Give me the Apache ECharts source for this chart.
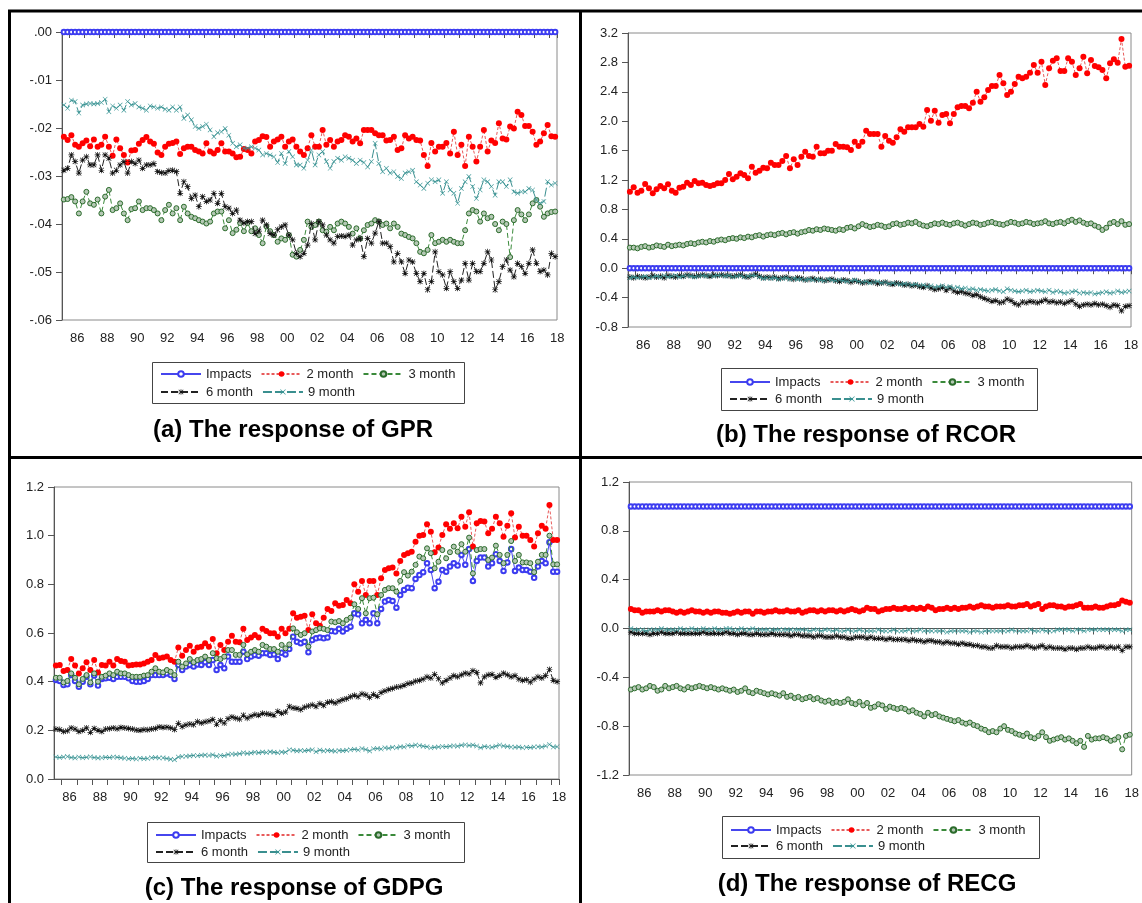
<!DOCTYPE html>
<html><head><meta charset="utf-8">
<script src="https://cdn.jsdelivr.net/npm/echarts@6/dist/echarts.min.js"></script>
<style>html,body{margin:0;padding:0;background:#fff}#c{width:1142px;height:903px}</style>
</head><body><div id="c"></div>
<script>
// ---------- categories / tick labels ----------
const startYear = 1985, startQuarter = 3, nQuarters = 132;
const yearLabels = ['86','88','90','92','94','96','98','00','02','04','06','08','10','12','14','16','18'];
const names = ['Impacts','2 month','3 month','6 month','9 month'];
const captions = ['(a) The response of GPR','(b) The response of RCOR','(c) The response of GDPG','(d) The response of RECG'];
const gprTicks = [-0.06, 0.00, 0.01];
const rcorTicks = [-0.8, 3.2, 0.4];
const gdpgTicks = [0.0, 1.2, 0.2];
const recgTicks = [-1.2, 1.2, 0.4];

// ---------- (a) GPR ----------
const gprImpacts = [0,0,0,0,0,0,0,0,0,0,0,0,0,0,0,0,0,0,0,0,0,0,0,0,0,0,0,0,0,0,0,0,0,0,0,0,0,0,0,0,0,0,0,0,0,0,0,0,0,0,0,0,0,0,0,0,0,0,0,0,0,0,0,0,0,0,0,0,0,0,0,0,0,0,0,0,0,0,0,0,0,0,0,0,0,0,0,0,0,0,0,0,0,0,0,0,0,0,0,0,0,0,0,0,0,0,0,0,0,0,0,0,0,0,0,0,0,0,0,0,0,0,0,0,0,0,0,0,0,0,0,0];
const gprM2 = [-0.0218,-0.0225,-0.0215,-0.0235,-0.0239,-0.0232,-0.0226,-0.0238,-0.0224,-0.0239,
-0.0235,-0.0218,-0.0239,-0.0258,-0.0224,-0.0242,-0.0256,-0.0272,-0.0247,-0.0246,
-0.0233,-0.0225,-0.0219,-0.0228,-0.0233,-0.0251,-0.0256,-0.0239,-0.0233,-0.0231,
-0.0228,-0.0254,-0.0242,-0.0239,-0.0239,-0.0246,-0.0249,-0.0253,-0.0232,-0.0249,
-0.0253,-0.0246,-0.0232,-0.0249,-0.0249,-0.0253,-0.0261,-0.0260,-0.0244,-0.0246,
-0.0253,-0.0228,-0.0225,-0.0217,-0.0219,-0.0239,-0.0228,-0.0224,
-0.0218,-0.0239,-0.0228,-0.0224,-0.0239,-0.0249,-0.0256,-0.0242,-0.0215,-0.0239,
-0.0239,-0.0204,-0.0235,-0.0225,-0.0239,-0.0228,-0.0225,-0.0215,-0.0218,-0.0228,
-0.0222,-0.0232,-0.0204,-0.0204,-0.0204,-0.0211,-0.0215,-0.0215,-0.0226,-0.0225,
-0.0218,-0.0246,-0.0242,-0.0215,-0.0222,-0.0218,-0.0225,-0.0226,-0.0256,-0.0279,
-0.0231,-0.0249,-0.0239,-0.0239,-0.0231,-0.0253,-0.0208,-0.0256,-0.0235,-0.0279,
-0.0218,-0.0239,-0.0270,-0.0239,-0.0204,-0.0249,-0.0226,-0.0231,-0.0190,-0.0222,
-0.0224,-0.0197,-0.0201,-0.0166,-0.0173,-0.0196,-0.0196,-0.0208,-0.0235,-0.0228,
-0.0211,-0.0194,-0.0217,-0.0218];
const gprM3 = [-0.0349,-0.0348,-0.0344,-0.0353,-0.0378,-0.0353,-0.0333,-0.0357,-0.0360,-0.0349,
-0.0378,-0.0343,-0.0329,-0.0371,-0.0367,-0.0357,-0.0378,-0.0392,-0.0369,-0.0367,
-0.0353,-0.0371,-0.0367,-0.0367,-0.0371,-0.0378,-0.0392,-0.0371,-0.0360,-0.0378,
-0.0367,-0.0392,-0.0364,-0.0378,-0.0385,-0.0388,-0.0392,-0.0395,-0.0399,-0.0395,
-0.0378,-0.0374,-0.0374,
-0.0409,-0.0392,-0.0419,-0.0412,-0.0398,-0.0415,-0.0398,-0.0415,-0.0409,-0.0423,-0.0440,-0.0405,-0.0415,-0.0423,-0.0437,
-0.0430,-0.0433,-0.0423,-0.0464,-0.0468,-0.0454,-0.0433,-0.0395,-0.0406,-0.0402,
-0.0395,-0.0413,-0.0416,-0.0406,-0.0413,-0.0399,-0.0395,-0.0399,-0.0406,-0.0420,
-0.0409,-0.0430,-0.0413,-0.0402,-0.0399,-0.0392,-0.0395,-0.0402,-0.0399,-0.0409,
-0.0399,-0.0406,-0.0420,-0.0423,-0.0427,-0.0430,-0.0440,-0.0458,-0.0461,-0.0454,
-0.0423,-0.0440,-0.0437,-0.0433,-0.0437,-0.0433,-0.0437,-0.0440,
-0.0440,-0.0413,-0.0378,-0.0371,-0.0374,-0.0395,-0.0378,-0.0388,-0.0385,-0.0400,
-0.0413,-0.0395,-0.0400,-0.0469,-0.0392,-0.0371,-0.0380,-0.0392,-0.0380,-0.0357,
-0.0350,-0.0364,-0.0385,-0.0378,-0.0375,-0.0374];
const gprM6 = [-0.0288,-0.0284,-0.0256,-0.0270,-0.0294,-0.0267,-0.0260,-0.0277,-0.0277,-0.0256,
-0.0288,-0.0256,-0.0263,-0.0294,-0.0288,-0.0277,-0.0270,-0.0294,-0.0270,-0.0274,
-0.0267,-0.0284,-0.0277,-0.0277,-0.0274,-0.0291,-0.0293,-0.0294,-0.0289,-0.0288,
-0.0291,
-0.0336,-0.0312,-0.0322,-0.0347,-0.0340,-0.0364,-0.0343,-0.0353,-0.0350,-0.0336,-0.0357,-0.0336,-0.0364,-0.0367,
-0.0378,-0.0371,-0.0392,-0.0398,-0.0395,-0.0395,-0.0420,-0.0415,-0.0392,-0.0402,-0.0420,-0.0423,-0.0412,
-0.0406,-0.0402,-0.0423,-0.0433,-0.0461,-0.0468,-0.0461,-0.0444,-0.0399,-0.0433,
-0.0395,-0.0402,-0.0423,-0.0433,-0.0440,-0.0426,-0.0425,-0.0426,-0.0423,-0.0444,
-0.0433,-0.0430,-0.0468,-0.0430,-0.0440,-0.0419,-0.0395,-0.0440,-0.0440,-0.0447,
-0.0479,-0.0461,-0.0479,-0.0503,-0.0475,-0.0479,-0.0503,-0.0520,-0.0503,-0.0537,
-0.0520,-0.0458,-0.0499,-0.0506,-0.0534,-0.0499,-0.0520,-0.0534,-0.0517,-0.0482,
-0.0517,-0.0482,-0.0499,-0.0499,-0.0482,-0.0458,-0.0475,-0.0537,-0.0520,-0.0489,
-0.0475,-0.0496,-0.0510,-0.0482,-0.0489,-0.0503,-0.0482,-0.0454,-0.0482,-0.0499,
-0.0496,-0.0506,-0.0461,-0.0468];
const gprM9 = [-0.0152,-0.0159,-0.0142,-0.0145,-0.0169,-0.0152,-0.0150,-0.0149,-0.0150,-0.0149,
-0.0147,-0.0140,-0.0166,-0.0154,-0.0159,-0.0152,-0.0163,-0.0145,-0.0152,-0.0149,
-0.0156,-0.0159,-0.0163,-0.0154,-0.0156,-0.0159,-0.0156,-0.0161,-0.0163,-0.0156,
-0.0163,-0.0156,-0.0180,-0.0173,-0.0183,-0.0197,-0.0201,-0.0197,-0.0192,-0.0204,
-0.0218,-0.0210,-0.0208,-0.0201,-0.0215,-0.0232,-0.0239,-0.0235,-0.0242,-0.0242,
-0.0239,-0.0242,-0.0246,-0.0256,-0.0253,-0.0256,-0.0260,-0.0272,
-0.0253,-0.0274,-0.0249,-0.0260,-0.0277,-0.0277,-0.0284,-0.0267,-0.0246,-0.0277,
-0.0256,-0.0249,-0.0270,-0.0284,-0.0270,-0.0263,-0.0267,-0.0260,-0.0263,-0.0267,
-0.0274,-0.0267,-0.0272,-0.0281,-0.0270,-0.0232,-0.0274,-0.0291,-0.0284,-0.0294,
-0.0291,-0.0301,-0.0305,-0.0294,-0.0291,-0.0288,-0.0312,-0.0319,-0.0326,-0.0315,
-0.0308,-0.0312,-0.0308,-0.0336,-0.0312,-0.0329,-0.0336,-0.0357,-0.0326,-0.0312,
-0.0301,-0.0322,-0.0347,-0.0329,-0.0308,-0.0312,-0.0322,-0.0340,-0.0312,-0.0312,
-0.0322,-0.0308,-0.0333,-0.0336,-0.0333,-0.0333,-0.0326,-0.0329,-0.0350,-0.0357,
-0.0353,-0.0312,-0.0319,-0.0315];

// ---------- (b) RCOR ----------
const rcorImpacts = [0,0,0,0,0,0,0,0,0,0,0,0,0,0,0,0,0,0,0,0,0,0,0,0,0,0,0,0,0,0,0,0,0,0,0,0,0,0,0,0,0,0,0,0,0,0,0,0,0,0,0,0,0,0,0,0,0,0,0,0,0,0,0,0,0,0,0,0,0,0,0,0,0,0,0,0,0,0,0,0,0,0,0,0,0,0,0,0,0,0,0,0,0,0,0,0,0,0,0,0,0,0,0,0,0,0,0,0,0,0,0,0,0,0,0,0,0,0,0,0,0,0,0,0,0,0,0,0,0,0,0,0];
const rcorM2 = [1.041,1.100,1.028,1.055,1.146,1.087,1.019,1.073,1.118,1.087,
1.141,1.055,1.028,1.096,1.109,1.164,1.132,1.186,1.155,1.164,
1.132,1.118,1.132,1.155,1.155,1.200,1.282,1.209,1.245,1.291,
1.268,1.223,1.381,1.300,1.327,1.368,1.359,1.436,1.404,1.404,
1.459,1.527,1.359,1.481,1.404,1.517,1.586,1.527,1.517,1.653,
1.563,1.563,1.599,1.599,1.690,1.653,1.653,1.644,1.608,1.722,
1.663,1.722,
1.871,1.826,1.826,1.826,1.653,1.799,1.735,1.708,1.780,1.889,
1.858,1.917,1.917,1.917,1.962,1.926,2.152,2.007,2.143,1.980,
2.084,2.098,1.971,2.098,2.189,2.207,2.207,2.175,2.252,2.402,
2.266,2.325,2.424,2.479,2.479,2.629,2.515,2.356,2.402,2.506,
2.606,2.583,2.606,2.660,2.765,2.660,2.810,2.493,2.719,2.824,
2.855,2.683,2.683,2.855,2.810,2.629,2.719,2.878,2.651,2.833,
2.751,2.733,2.697,2.583,2.787,2.842,2.796,3.118,2.742,2.756];
const rcorM3 = [0.28,0.28,0.27,0.29,0.30,0.28,0.29,0.31,0.30,0.29,0.32,0.30,
0.31,0.32,0.31,0.33,0.34,0.33,0.35,0.36,0.35,0.37,0.36,0.38,
0.39,0.38,0.40,0.41,0.40,0.42,0.41,0.43,0.42,0.44,0.45,0.43,
0.45,0.46,0.45,0.47,0.48,0.46,0.48,0.49,0.47,0.49,0.50,0.52,
0.51,0.53,0.52,0.54,0.53,0.52,0.51,0.53,0.52,0.55,0.56,0.54,
0.57,0.60,0.58,0.56,0.57,0.59,0.58,0.56,0.57,0.60,0.61,0.59,
0.60,0.62,0.61,0.63,0.60,0.58,0.57,0.59,0.61,0.60,0.62,0.60,
0.59,0.61,0.62,0.60,0.58,0.60,0.62,0.61,0.59,0.60,0.62,0.63,
0.61,0.60,0.59,0.61,0.63,0.62,0.60,0.61,0.63,0.62,0.60,0.61,
0.62,0.64,0.61,0.60,0.62,0.63,0.61,0.64,0.66,0.63,0.65,0.62,
0.60,0.61,0.58,0.56,0.52,0.55,0.61,0.63,0.60,0.64,0.59,0.60];
const rcorM6 = [-0.12,-0.13,-0.11,-0.12,-0.13,-0.12,-0.10,-0.12,-0.11,-0.13,-0.10,-0.11,
-0.12,-0.10,-0.11,-0.09,-0.10,-0.11,-0.10,-0.09,-0.10,-0.11,-0.09,-0.10,
-0.09,-0.10,-0.10,-0.11,-0.10,-0.09,-0.11,-0.12,-0.10,-0.08,-0.11,-0.13,
-0.12,-0.13,-0.12,-0.14,-0.13,-0.12,-0.14,-0.15,-0.13,-0.14,-0.16,-0.15,
-0.14,-0.16,-0.15,-0.17,-0.16,-0.15,-0.17,-0.18,-0.16,-0.17,-0.19,-0.17,
-0.18,-0.20,-0.19,-0.18,-0.19,-0.21,-0.20,-0.19,-0.21,-0.22,-0.20,-0.21,
-0.23,-0.22,-0.24,-0.23,-0.25,-0.26,-0.24,-0.27,-0.29,-0.28,-0.26,-0.30,
-0.27,-0.31,-0.33,-0.32,-0.34,-0.35,-0.37,-0.36,-0.39,-0.41,-0.43,-0.45,
-0.44,-0.47,-0.46,-0.42,-0.44,-0.48,-0.50,-0.46,-0.47,-0.45,-0.46,-0.47,
-0.45,-0.43,-0.46,-0.45,-0.47,-0.46,-0.48,-0.46,-0.44,-0.49,-0.52,-0.50,
-0.49,-0.50,-0.48,-0.50,-0.49,-0.51,-0.53,-0.50,-0.51,-0.58,-0.52,-0.51];
const rcorM9 = [-0.13,-0.12,-0.13,-0.12,-0.11,-0.13,-0.12,-0.11,-0.12,-0.10,-0.12,-0.11,
-0.10,-0.12,-0.11,-0.10,-0.11,-0.12,-0.11,-0.10,-0.11,-0.10,-0.11,-0.10,
-0.10,-0.11,-0.10,-0.12,-0.11,-0.10,-0.12,-0.11,-0.10,-0.10,-0.12,-0.14,
-0.13,-0.14,-0.13,-0.15,-0.14,-0.13,-0.15,-0.14,-0.15,-0.15,-0.16,-0.15,
-0.16,-0.15,-0.16,-0.17,-0.15,-0.16,-0.17,-0.16,-0.17,-0.18,-0.17,-0.16,
-0.18,-0.19,-0.18,-0.20,-0.19,-0.18,-0.20,-0.19,-0.21,-0.20,-0.21,-0.22,
-0.21,-0.22,-0.23,-0.22,-0.24,-0.23,-0.25,-0.24,-0.26,-0.25,-0.24,-0.26,
-0.25,-0.27,-0.26,-0.28,-0.27,-0.29,-0.28,-0.30,-0.29,-0.30,-0.31,-0.30,
-0.29,-0.31,-0.32,-0.28,-0.30,-0.31,-0.32,-0.31,-0.30,-0.32,-0.31,-0.30,
-0.31,-0.32,-0.30,-0.33,-0.31,-0.32,-0.34,-0.33,-0.32,-0.31,-0.34,-0.33,
-0.34,-0.33,-0.35,-0.34,-0.33,-0.32,-0.34,-0.33,-0.31,-0.33,-0.32,-0.31];

// ---------- (c) GDPG ----------
const gdpgImpacts = [0.407,0.403,0.386,0.389,0.427,0.403,0.379,0.400,0.420,0.389,
0.425,0.384,0.411,0.414,0.416,0.411,0.420,0.420,0.420,0.414,
0.403,0.400,0.400,0.403,0.411,0.427,0.427,0.427,0.427,0.434,
0.427,0.411,0.469,0.448,0.462,0.469,0.462,0.471,0.469,0.480,
0.469,0.489,0.448,0.469,0.455,0.503,0.482,0.482,0.482,0.523,
0.493,0.503,0.510,0.507,0.517,0.517,0.510,0.512,0.493,0.519,
0.512,0.534,0.585,0.564,
0.558,0.564,0.521,0.571,0.578,0.581,0.578,0.581,0.608,0.606,
0.617,0.606,0.617,0.626,0.681,0.677,0.640,0.654,0.640,0.681,
0.640,0.699,0.729,0.736,0.732,0.704,0.756,0.777,0.786,0.784,
0.822,0.838,0.850,0.887,0.859,0.784,0.811,0.859,0.852,0.873,
0.887,0.877,0.921,0.880,0.945,0.814,0.896,0.910,0.910,0.873,
0.887,0.924,0.896,0.855,0.890,0.945,0.855,0.869,0.859,0.859,
0.852,0.827,0.873,0.896,0.887,0.973,0.852,0.852];
const gdpgM2 = [0.466,0.469,0.444,0.448,0.493,0.466,0.434,0.455,0.480,0.448,
0.489,0.438,0.469,0.466,0.482,0.466,0.493,0.485,0.482,0.466,
0.469,0.471,0.471,0.475,0.482,0.489,0.510,0.496,0.499,0.503,
0.489,0.482,0.540,0.507,0.530,0.548,0.523,0.540,0.544,0.558,
0.544,0.575,0.517,0.551,0.530,0.564,0.589,0.564,0.562,0.617,
0.571,0.581,0.592,0.581,0.617,0.608,0.599,0.599,0.585,0.617,
0.599,0.617,0.681,0.663,
0.667,0.671,0.612,0.677,0.640,0.630,0.663,0.699,0.690,0.722,
0.712,0.715,0.736,0.722,0.800,0.770,0.814,0.756,0.814,0.814,
0.756,0.825,0.859,0.866,0.869,0.845,0.896,0.921,0.928,0.934,
0.975,1.000,1.003,1.047,1.016,0.932,0.951,1.003,1.047,1.028,
1.051,1.030,1.078,1.037,1.096,0.955,1.051,1.060,1.058,1.010,
1.028,1.078,1.051,0.996,1.041,1.092,0.992,1.037,1.000,1.000,
0.982,0.955,1.010,1.041,1.028,1.126,0.982,0.982];
const gdpgM3 = [0.416,0.416,0.397,0.403,0.434,0.416,0.389,0.411,0.427,0.397,
0.434,0.400,0.420,0.425,0.434,0.427,0.441,0.434,0.434,0.427,
0.420,0.420,0.420,0.425,0.427,0.441,0.455,0.441,0.438,0.448,
0.441,0.427,0.482,0.462,0.475,0.493,0.480,0.489,0.493,0.503,
0.489,0.517,0.496,0.493,0.503,0.530,0.530,0.510,0.510,0.551,
0.512,0.523,0.530,0.523,0.551,0.544,0.534,0.534,0.523,0.551,
0.537,0.553,0.619,0.603,
0.592,0.599,0.544,0.606,0.612,0.619,0.617,0.612,0.647,0.644,
0.649,0.640,0.654,0.663,0.718,0.699,0.743,0.681,0.743,0.745,
0.677,0.756,0.777,0.784,0.784,0.770,0.814,0.850,0.836,0.852,
0.880,0.914,0.907,0.948,0.928,0.866,0.893,0.941,0.907,0.932,
0.955,0.934,0.965,0.934,0.992,0.845,0.941,0.945,0.945,0.900,
0.910,0.959,0.921,0.887,0.921,0.978,0.896,0.921,0.890,0.890,
0.887,0.850,0.893,0.921,0.921,1.000,0.882,0.882];
const gdpgM6 = [0.205,0.203,0.195,0.198,0.210,0.205,0.195,0.200,0.210,0.192,0.208,0.200,
0.195,0.205,0.207,0.210,0.206,0.212,0.210,0.208,0.205,0.201,0.200,0.203,
0.202,0.205,0.208,0.214,0.212,0.213,0.210,0.203,0.229,0.215,0.222,0.226,
0.223,0.236,0.230,0.235,0.238,0.245,0.225,0.240,0.230,0.248,0.255,0.250,
0.246,0.262,0.250,0.258,0.265,0.262,0.270,0.268,0.266,0.262,0.278,0.270,
0.275,0.298,0.292,0.290,0.285,0.295,0.300,0.305,0.298,0.310,0.302,0.315,
0.318,0.312,0.320,0.326,0.330,0.338,0.344,0.338,0.350,0.346,0.335,0.348,
0.340,0.355,0.362,0.368,0.372,0.378,0.380,0.385,0.392,0.395,0.402,0.405,
0.410,0.420,0.415,0.430,0.412,0.395,0.405,0.415,0.425,0.420,0.428,0.435,
0.432,0.445,0.438,0.395,0.420,0.428,0.430,0.418,0.425,0.435,0.428,0.420,
0.425,0.410,0.405,0.408,0.398,0.410,0.420,0.415,0.425,0.450,0.405,0.400];
const gdpgM9 = [0.090,0.088,0.090,0.092,0.088,0.086,0.090,0.087,0.089,0.091,0.088,0.086,
0.087,0.089,0.088,0.090,0.089,0.087,0.085,0.083,0.084,0.082,0.085,0.083,
0.084,0.087,0.088,0.086,0.087,0.084,0.081,0.079,0.090,0.092,0.094,0.095,
0.097,0.096,0.098,0.099,0.097,0.100,0.094,0.097,0.096,0.101,0.103,0.102,
0.104,0.108,0.105,0.107,0.110,0.108,0.111,0.109,0.112,0.110,0.108,0.111,
0.110,0.120,0.118,0.115,0.117,0.116,0.118,0.120,0.112,0.119,0.115,0.117,
0.116,0.114,0.117,0.116,0.118,0.120,0.122,0.119,0.125,0.121,0.115,0.124,
0.125,0.123,0.128,0.126,0.130,0.128,0.133,0.131,0.138,0.136,0.140,0.138,
0.135,0.133,0.128,0.130,0.132,0.134,0.133,0.135,0.137,0.135,0.139,0.141,
0.138,0.140,0.136,0.128,0.134,0.132,0.130,0.135,0.140,0.136,0.134,0.131,
0.130,0.132,0.128,0.130,0.129,0.132,0.133,0.131,0.136,0.142,0.131,0.133];

// ---------- (d) RECG ----------
const recgImpacts = [1,1,1,1,1,1,1,1,1,1,1,1,1,1,1,1,1,1,1,1,1,1,1,1,1,1,1,1,1,1,1,1,1,1,1,1,1,1,1,1,1,1,1,1,1,1,1,1,1,1,1,1,1,1,1,1,1,1,1,1,1,1,1,1,1,1,1,1,1,1,1,1,1,1,1,1,1,1,1,1,1,1,1,1,1,1,1,1,1,1,1,1,1,1,1,1,1,1,1,1,1,1,1,1,1,1,1,1,1,1,1,1,1,1,1,1,1,1,1,1,1,1,1,1,1,1,1,1,1,1,1,1];
const recgM2 = [0.16,0.15,0.15,0.13,0.14,0.14,0.14,0.15,0.14,0.15,0.15,0.14,
0.13,0.14,0.13,0.14,0.15,0.14,0.14,0.13,0.14,0.13,0.14,0.14,
0.13,0.13,0.12,0.13,0.14,0.13,0.14,0.14,0.12,0.14,0.14,0.13,
0.14,0.14,0.15,0.14,0.14,0.15,0.14,0.14,0.15,0.13,0.14,0.15,
0.15,0.14,0.15,0.14,0.15,0.15,0.14,0.15,0.14,0.15,0.16,0.15,
0.14,0.15,0.17,0.16,0.16,0.14,0.15,0.16,0.16,0.17,0.16,0.16,
0.17,0.16,0.17,0.16,0.17,0.16,0.18,0.17,0.15,0.16,0.16,0.17,
0.16,0.17,0.16,0.17,0.17,0.18,0.17,0.18,0.19,0.18,0.18,0.17,
0.18,0.18,0.18,0.19,0.18,0.18,0.19,0.19,0.20,0.18,0.19,0.20,
0.16,0.18,0.19,0.19,0.18,0.18,0.17,0.18,0.18,0.19,0.20,0.17,
0.17,0.17,0.18,0.17,0.17,0.18,0.19,0.19,0.20,0.23,0.22,0.21];
const recgM3 = [-0.50,-0.49,-0.48,-0.50,-0.49,-0.47,-0.48,-0.51,-0.50,-0.47,-0.49,-0.48,
-0.47,-0.49,-0.50,-0.48,-0.49,-0.48,-0.47,-0.48,-0.49,-0.48,-0.49,-0.50,
-0.49,-0.50,-0.51,-0.50,-0.52,-0.51,-0.49,-0.52,-0.53,-0.51,-0.52,-0.53,
-0.54,-0.53,-0.54,-0.55,-0.53,-0.56,-0.55,-0.57,-0.56,-0.58,-0.57,-0.56,
-0.58,-0.57,-0.59,-0.60,-0.59,-0.61,-0.60,-0.61,-0.60,-0.58,-0.61,-0.62,
-0.60,-0.63,-0.61,-0.65,-0.64,-0.62,-0.63,-0.66,-0.64,-0.65,-0.66,-0.65,
-0.66,-0.68,-0.67,-0.69,-0.70,-0.72,-0.69,-0.71,-0.70,-0.72,-0.73,-0.74,
-0.75,-0.76,-0.75,-0.77,-0.78,-0.77,-0.79,-0.80,-0.82,-0.83,-0.85,-0.84,
-0.85,-0.82,-0.80,-0.83,-0.84,-0.86,-0.87,-0.88,-0.86,-0.89,-0.90,-0.88,
-0.85,-0.89,-0.92,-0.91,-0.90,-0.89,-0.91,-0.90,-0.92,-0.94,-0.92,-0.97,
-0.88,-0.91,-0.90,-0.90,-0.89,-0.90,-0.92,-0.91,-0.89,-0.99,-0.88,-0.87];
const recgM6 = [-0.03,-0.04,-0.04,-0.04,-0.04,-0.05,-0.04,-0.04,-0.03,-0.04,-0.04,-0.04,
-0.03,-0.04,-0.04,-0.04,-0.04,-0.04,-0.04,-0.03,-0.04,-0.04,-0.04,-0.04,
-0.04,-0.03,-0.04,-0.04,-0.05,-0.04,-0.04,-0.05,-0.05,-0.04,-0.05,-0.05,
-0.05,-0.04,-0.05,-0.05,-0.05,-0.05,-0.06,-0.05,-0.05,-0.06,-0.06,-0.06,
-0.07,-0.06,-0.06,-0.07,-0.07,-0.07,-0.06,-0.07,-0.07,-0.08,-0.08,-0.07,
-0.07,-0.07,-0.08,-0.07,-0.08,-0.08,-0.08,-0.09,-0.08,-0.09,-0.09,-0.09,
-0.09,-0.10,-0.09,-0.10,-0.10,-0.11,-0.10,-0.10,-0.11,-0.11,-0.12,-0.11,
-0.12,-0.12,-0.13,-0.12,-0.13,-0.13,-0.14,-0.14,-0.15,-0.15,-0.16,-0.16,
-0.14,-0.15,-0.15,-0.15,-0.16,-0.15,-0.15,-0.15,-0.14,-0.15,-0.16,-0.15,
-0.14,-0.16,-0.15,-0.16,-0.16,-0.16,-0.17,-0.16,-0.16,-0.17,-0.16,-0.16,
-0.15,-0.16,-0.16,-0.15,-0.15,-0.16,-0.15,-0.16,-0.15,-0.18,-0.15,-0.15];
const recgM9 = [0.00,-0.01,-0.01,-0.01,-0.02,-0.01,-0.01,-0.01,0.00,-0.01,-0.01,-0.01,
-0.01,0.00,-0.01,-0.01,0.00,-0.01,-0.01,0.00,-0.01,-0.01,0.00,-0.01,
-0.01,0.00,0.00,-0.01,-0.01,0.00,-0.01,-0.01,0.00,-0.01,-0.01,-0.01,
-0.01,-0.01,-0.01,-0.01,-0.01,-0.01,-0.01,-0.01,-0.01,-0.01,-0.01,-0.02,
-0.01,-0.01,-0.02,-0.01,-0.01,-0.02,-0.01,-0.02,-0.02,-0.01,-0.02,-0.02,
-0.01,-0.02,-0.02,-0.02,-0.02,-0.01,-0.02,-0.02,-0.02,-0.01,-0.02,-0.02,
-0.02,-0.01,-0.02,-0.02,-0.01,-0.02,-0.02,-0.02,-0.02,-0.02,-0.02,-0.03,
-0.02,-0.02,-0.02,-0.02,-0.02,-0.03,-0.02,-0.02,-0.03,-0.02,-0.02,-0.02,
-0.02,-0.02,-0.02,-0.02,-0.01,-0.02,-0.02,-0.02,-0.02,-0.01,-0.02,-0.02,
-0.01,-0.02,-0.02,-0.02,-0.01,-0.01,-0.01,-0.01,-0.02,-0.01,-0.01,-0.02,
-0.01,-0.01,-0.01,-0.01,-0.01,-0.01,-0.01,-0.01,-0.01,-0.02,-0.01,-0.01];

// ---------- build ----------
const quarters = [];
for (let k = 0; k < nQuarters; k++) {
  const q0 = startQuarter - 1 + k;
  quarters.push((startYear + Math.floor(q0 / 4)) + 'Q' + (q0 % 4 + 1));
}
const FONT = '"Liberation Sans", Arial, Helvetica, sans-serif';
const ASTER = 'path://M0,4.4L10,4.4L10,5.6L0,5.6Z M4.4,0L5.6,0L5.6,10L4.4,10Z M1.4,0.6L9.4,8.6L8.6,9.4L0.6,1.4Z M8.6,0.6L9.4,1.4L1.4,9.4L0.6,8.6Z';
const CROSS = 'path://M1.0,0.2L9.8,9.0L9.0,9.8L0.2,1.0Z M9.0,0.2L9.8,1.0L1.0,9.8L0.2,9.0Z';
const styleOf = {
  'Impacts': {symbol:'emptyCircle', size:4.5, color:'#3c3cf0', border:'#3c3cf0', bw:1, line:'#4646ee', type:'solid'},
  '2 month': {symbol:'circle', size:6, color:'#ff0000', border:'#ff0000', bw:0, line:'#e85a5a', type:[3,2]},
  '3 month': {symbol:'circle', size:5, color:'#b4c8b4', border:'#2b6b2b', bw:1, line:'#3a8a3a', type:[5,3]},
  '6 month': {symbol:ASTER, size:6, color:'#111111', border:'#111111', bw:0, line:'#222222', type:[7,3]},
  '9 month': {symbol:CROSS, size:5, color:'#3a9696', border:'#3a9696', bw:0, line:'#3a8f8f', type:[9,3]}
};
const panelData = [
  [gprImpacts, gprM2, gprM3, gprM6, gprM9],
  [rcorImpacts, rcorM2, rcorM3, rcorM6, rcorM9],
  [gdpgImpacts, gdpgM2, gdpgM3, gdpgM6, gdpgM9],
  [recgImpacts, recgM2, recgM3, recgM6, recgM9]
];
const grids = [
  {left:62, top:32, width:495, height:288},
  {left:628, top:33, width:503, height:294},
  {left:54, top:487, width:505, height:292},
  {left:629, top:482, width:504, height:293}
];
const yRanges = [gprTicks, rcorTicks, gdpgTicks, recgTicks];
const yFmt = [
  v => v.toFixed(2).replace(/^(-?)0\./, '$1.'),
  v => v.toFixed(1), v => v.toFixed(1), v => v.toFixed(1)
];
const axisColor = '#555';
const option = {
  backgroundColor: '#fff',
  animation: false,
  grid: grids.map(g => Object.assign({show:true, borderColor:'#8a8a8a', borderWidth:1, backgroundColor:'transparent'}, g)),
  xAxis: grids.map((g, k) => ({
    type:'category', gridIndex:k, data:quarters, boundaryGap:true,
    axisLine:{show:true, lineStyle:{color:axisColor, width:1}},
    axisTick:{show:true, length:6, lineStyle:{color:axisColor}, interval:(i, v) => v.endsWith('Q1')},
    axisLabel:{show:true, margin:12, fontSize:13, color:'#222', fontFamily:FONT, padding:[0,0,0,4],
      interval:(i, v) => v.endsWith('Q2') && yearLabels.indexOf(v.slice(2,4)) >= 0,
      formatter: v => v.slice(2,4)},
    splitLine:{show:false}
  })),
  yAxis: grids.map((g, k) => ({
    type:'value', gridIndex:k, min:yRanges[k][0], max:yRanges[k][1], interval:yRanges[k][2],
    axisLine:{show:true, lineStyle:{color:axisColor, width:1}},
    axisTick:{show:true, length:6, lineStyle:{color:axisColor}},
    axisLabel:{margin:10, fontSize:13, color:'#222', fontFamily:FONT, formatter:yFmt[k]},
    splitLine:{show:false}
  })),
  legend: [],
  series: [],
  graphic: []
};
panelData.forEach((arrs, k) => {
  arrs.forEach((arr, j) => {
    const nm = names[j], s = styleOf[nm];
    option.series.push({
      type:'line', name:nm, xAxisIndex:k, yAxisIndex:k, data:arr,
      symbol:s.symbol, symbolSize:s.size, showAllSymbol:true, clip:false,
      lineStyle:{color:s.line, width:1, type:s.type},
      itemStyle:{color:s.color, borderColor:s.border, borderWidth:s.bw},
      emphasis:{disabled:true}, z: 2 + j
    });
  });
});
// legends: [left, row1 top, row2 top]  and boxes
const legendPos = [[160, 367.5, 385.5], [729, 375.5, 392.5], [155, 828.5, 845.5], [730, 823.5, 839.5]];
const legendBox = [[152, 362, 312, 41], [721, 368, 316, 42], [147, 822, 317, 40], [722, 816, 317, 42]];
const legendCommon = {orient:'horizontal', itemWidth:40, itemHeight:7, itemGap:9, padding:0, selectedMode:false,
  textStyle:{fontSize:13, color:'#222', fontFamily:FONT}};
legendPos.forEach(p => {
  option.legend.push(Object.assign({}, legendCommon, {left:p[0], top:p[1], data:names.slice(0,3)}));
  option.legend.push(Object.assign({}, legendCommon, {left:p[0], top:p[2], data:names.slice(3)}));
});
legendBox.forEach(b => {
  option.graphic.push({type:'rect', shape:{x:b[0]+0.5, y:b[1]+0.5, width:b[2], height:b[3]},
    style:{fill:'none', stroke:'#444', lineWidth:1}, z:1, silent:true});
});
const capPos = [[293, 430], [866, 435], [294, 888], [867, 884]];
captions.forEach((t, k) => {
  option.graphic.push({type:'text', x:capPos[k][0], y:capPos[k][1], silent:true,
    style:{text:t, font:'bold 24px ' + FONT, fill:'#000', align:'center', verticalAlign:'middle',
      textAlign:'center', textVerticalAlign:'middle'}});
});
// table borders
[[9.5, 10, 9.5, 903], [580.5, 10, 580.5, 903], [8, 11, 1142, 11], [8, 457.5, 1142, 457.5]].forEach(l => {
  option.graphic.push({type:'line', shape:{x1:l[0], y1:l[1], x2:l[2], y2:l[3]},
    style:{stroke:'#000', lineWidth:3}, silent:true});
});
const chart = echarts.init(document.getElementById('c'), null, {renderer:'canvas'});
chart.setOption(option);
</script>
</body></html>
